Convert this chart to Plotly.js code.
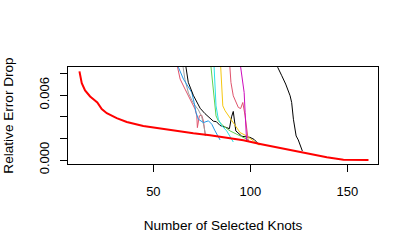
<!DOCTYPE html>
<html><head><meta charset="utf-8">
<script src="https://cdn.plot.ly/plotly-3.0.1.min.js"></script>
<style>html,body{margin:0;padding:0;background:#fff}#plot{width:415px;height:249px}</style>
</head><body><div id="plot"></div>
<script>
// Red: overall relative error drop vs number of selected knots
const redX = [11.9, 13.1, 14.8, 17.4, 19.9, 21.1, 23.4, 26, 31.1, 36.3, 44.8, 53.5, 62.1, 70.6, 79.2, 87.8, 96.4, 105, 113.6, 122.2, 130.8, 139.4, 148, 154, 160.9];
const redY = [0.00822, 0.00713, 0.00645, 0.00589, 0.00552, 0.00533, 0.00472, 0.00434, 0.00388, 0.00353, 0.00316, 0.00291, 0.0027, 0.00248, 0.0023, 0.00207, 0.00183, 0.00149, 0.00118, 0.00084, 0.00053, 0.00025, 0.00003, 0.0, 0.0];

const black1X = [66.3, 66.9, 68, 70.6, 74.1, 76.6, 78.4, 80.9, 82.5, 84.4, 87.8, 89.2, 90.3, 91.2, 92.5, 95.6, 99.8, 102, 104.6];
const black1Y = [0.0092, 0.0086, 0.0072, 0.0060, 0.0048, 0.0043, 0.0040, 0.0036, 0.00355, 0.0032, 0.0030, 0.0029, 0.0040, 0.0045, 0.0027, 0.0022, 0.0021, 0.0019, 0.0014];

const black2X = [113.5, 114.1, 116.2, 118.2, 120.5, 121.3, 122.2, 123.6, 124.7, 126.8];
const black2Y = [0.0090, 0.00859, 0.00781, 0.00704, 0.00595, 0.00533, 0.00378, 0.00223, 0.00186, 0.00084];

const blueX = [62.3, 62.9, 65.5, 68, 69.8, 71, 72, 73.2, 75.8, 78.4, 80.1, 81.8, 84.4];
const blueY = [0.0090, 0.0086, 0.0075, 0.00673, 0.00626, 0.00533, 0.0044, 0.00378, 0.00347, 0.00363, 0.00332, 0.0027, 0.00186];

const pink1X = [62.0, 62.4, 63.8, 66.3, 68.9, 71.5, 72.4, 72.7, 73.7, 74.9, 75.8, 76.3, 76.8];
const pink1Y = [0.0090, 0.0086, 0.0075, 0.00658, 0.00565, 0.00472, 0.00409, 0.0030, 0.00409, 0.00416, 0.00363, 0.0030, 0.00223];

const grayX = [65.0, 65.3, 66.3, 68.1, 70.6, 73.2, 74.9, 76.1, 77.0];
const grayY = [0.0090, 0.0086, 0.00744, 0.0062, 0.00527, 0.00465, 0.00403, 0.0031, 0.00223];

const greenX = [79.5, 79.7, 80.6, 81.3, 82.3, 83.5, 86.1, 89.5, 93, 96.4, 99];
const greenY = [0.0090, 0.0086, 0.00688, 0.00533, 0.00409, 0.00363, 0.00316, 0.0027, 0.00239, 0.00207, 0.00186];

const cyanX = [81.2, 81.3, 81.8, 82.3, 83.5, 85.3, 87.8, 89.9, 91.2];
const cyanY = [0.0090, 0.0086, 0.00688, 0.00502, 0.00378, 0.00316, 0.0027, 0.00207, 0.00167];

const yellowX = [84.6, 84.7, 85.3, 85.8, 87, 89.5, 92.1, 94.7, 98.1, 101.5, 104.6];
const yellowY = [0.0090, 0.0086, 0.00688, 0.00502, 0.00456, 0.00393, 0.00316, 0.00254, 0.00223, 0.00177, 0.00137];

const pink2X = [89.3, 89.5, 90, 91.2, 93.8, 95, 96.1, 97.3, 98.1, 99];
const pink2Y = [0.0090, 0.0086, 0.00719, 0.00595, 0.00487, 0.00477, 0.00533, 0.00409, 0.0027, 0.00167];

const magentaX = [94.7, 95, 96.1, 96.8, 97.3, 97.6, 98.1];
const magentaY = [0.0090, 0.0086, 0.0075, 0.00626, 0.0044, 0.00254, 0.00167];

const yTickVals = [0, 0.002, 0.004, 0.006, 0.008];
const yTickText = ['0.000', '', '', '0.006', ''];
const xTickVals = [50, 100, 150];

function ln(x, y, color, w) {
  return {x: x, y: y, type: 'scatter', mode: 'lines', line: {color: color, width: w}, hoverinfo: 'skip'};
}
const data = [
  ln(pink1X, pink1Y, '#DF536B', 1),
  ln(grayX, grayY, '#9E9E9E', 1),
  ln(blueX, blueY, '#2297E6', 1),
  ln(black1X, black1Y, '#000000', 1),
  ln(greenX, greenY, '#61D04F', 1),
  ln(cyanX, cyanY, '#28E2E5', 1),
  ln(yellowX, yellowY, '#F5C710', 1),
  ln(pink2X, pink2Y, '#DF536B', 1),
  ln(magentaX, magentaY, '#CD0BBC', 1),
  ln(black2X, black2Y, '#000000', 1),
  ln(redX, redY, '#FF0000', 2)
];
const tickFont = {family: 'Liberation Sans, Arial, sans-serif', size: 13, color: '#000'};
const titleFont = {family: 'Liberation Sans, Arial, sans-serif', size: 13.6, color: '#000'};
const layout = {
  width: 415, height: 249,
  margin: {l: 68, r: 37, t: 67, b: 85},
  paper_bgcolor: '#fff', plot_bgcolor: '#fff',
  showlegend: false,
  font: tickFont,
  xaxis: {
    range: [6.0, 165.8], tickvals: xTickVals, ticks: 'outside', ticklen: 7, tickcolor: '#000',
    showgrid: false, zeroline: false, showline: true, linecolor: '#000', linewidth: 1, mirror: true,
    tickfont: tickFont, ticklabelstandoff: 8,
    title: {text: 'Number of Selected Knots', font: titleFont, standoff: 22}
  },
  yaxis: {
    range: [-0.00037, 0.00862], tickvals: yTickVals, ticktext: yTickText, tickangle: -90,
    ticks: 'outside', ticklen: 7, tickcolor: '#000',
    showgrid: false, zeroline: false, showline: true, linecolor: '#000', linewidth: 1, mirror: true,
    tickfont: tickFont, ticklabelstandoff: 6,
    title: {text: 'Relative Error Drop', font: titleFont, standoff: 20}
  }
};
Plotly.newPlot('plot', data, layout, {displayModeBar: false, staticPlot: true});
</script></body></html>
